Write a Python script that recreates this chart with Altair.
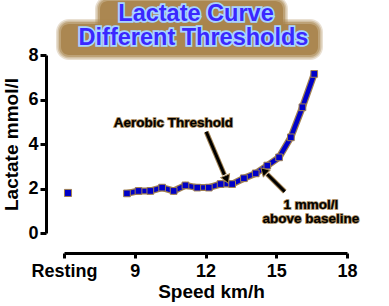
import altair as alt
import pandas as pd

# ---- data ----
rest_speed = [6.17]
rest_lactate = [1.8]
speeds = [8.67, 9.16, 9.66, 10.16, 10.65, 11.15, 11.65, 12.14, 12.64, 13.13,
          13.63, 14.13, 14.62, 15.12, 15.62, 16.11, 16.61]
lactate = [1.78, 1.89, 1.89, 2.04, 1.89, 2.14, 2.04, 2.04, 2.2, 2.2,
           2.46, 2.68, 3.03, 3.4, 4.3, 5.65, 7.15]
x_ticks = [6, 9, 12, 15, 18]
y_ticks = [0, 2, 4, 6, 8]

ann_text = ["Aerobic Threshold", "1 mmol/l", "above baseline"]
ann_x = [10.64, 16.47, 16.47]
ann_y = [4.94, 1.26, 0.63]

arrow_x = [12.03, 15.36]
arrow_y = [4.55, 1.86]
arrow_x2 = [12.80, 14.62]
arrow_y2 = [2.62, 2.64]
head_x = [12.88, 14.51]
head_y = [2.46, 2.76]
head_angle = [157, 315]

title_lines = ["Lactate Curve", "Different Thresholds"]

FONT = "Liberation Sans"
BLUE = "#0000c8"
BROWN = "#a08050"

curve = pd.DataFrame({"speed": speeds, "lactate": lactate})
rest = pd.DataFrame({"speed": rest_speed, "lactate": rest_lactate})
ann = pd.DataFrame({"speed": ann_x, "lactate": ann_y, "t": ann_text})
arrows = pd.DataFrame({"speed": arrow_x, "lactate": arrow_y, "x2": arrow_x2, "y2": arrow_y2})
heads = pd.DataFrame({"speed": head_x, "lactate": head_y, "a": head_angle})

xs = alt.Scale(domain=[6, 18], nice=False, zero=False)
ys = alt.Scale(domain=[0, 8], nice=False)

xaxis = alt.Axis(values=x_ticks, title="Speed km/h",
                 labelExpr="datum.value == 6 ? 'Resting' : datum.label",
                 labelOverlap=False, labelFlush=False,
                 offset=20, grid=False, domainColor="black", domainWidth=3,
                 tickColor="black", tickWidth=3, tickSize=5,
                 labelFont=FONT, labelFontSize=18, labelFontWeight="bold",
                 labelColor="black", labelPadding=4,
                 titleFont=FONT, titleFontSize=19, titleFontWeight="bold",
                 titleColor="black", titlePadding=2, titleX=147)
yaxis = alt.Axis(values=y_ticks, title="Lactate mmol/l",
                 labelOverlap=False, labelFlush=False,
                 offset=18, grid=False, domainColor="black", domainWidth=3,
                 tickColor="black", tickWidth=3, tickSize=6,
                 labelFont=FONT, labelFontSize=18, labelFontWeight="bold",
                 labelColor="black", labelPadding=2,
                 titleFont=FONT, titleFontSize=19, titleFontWeight="bold",
                 titleColor="black", titlePadding=6)

X = alt.X("speed:Q", scale=xs, axis=xaxis)
Y = alt.Y("lactate:Q", scale=ys, axis=yaxis)

line_bg = alt.Chart(curve).mark_line(color=BROWN, strokeWidth=7).encode(x=X, y=Y)
line_fg = alt.Chart(curve).mark_line(color=BLUE, strokeWidth=4.5).encode(x=X, y=Y)
pts = alt.Chart(curve).mark_point(shape="square", filled=True, fill=BLUE,
                                  stroke=BROWN, strokeWidth=1, size=45,
                                  opacity=1).encode(x=X, y=Y)
rest_pt = alt.Chart(rest).mark_point(shape="square", filled=True, fill=BLUE,
                                     stroke=BROWN, strokeWidth=1, size=50,
                                     opacity=1).encode(x=X, y=Y)

arrow_bg = alt.Chart(arrows).mark_rule(color=BROWN, strokeWidth=5).encode(
    x=X, y=Y, x2="x2:Q", y2="y2:Q")
arrow_fg = alt.Chart(arrows).mark_rule(color="black", strokeWidth=3).encode(
    x=X, y=Y, x2="x2:Q", y2="y2:Q")
head = alt.Chart(heads).mark_point(shape="triangle", filled=True, fill="black",
                                   stroke=BROWN, strokeWidth=1, size=90,
                                   opacity=1).encode(
    x=X, y=Y, angle=alt.Angle("a:Q", scale=None))

ann_bg = alt.Chart(ann).mark_text(font=FONT, fontSize=13.5, fontWeight="bold",
                                  stroke=BROWN, strokeWidth=1.5, color=BROWN).encode(
    x=X, y=Y, text="t:N")
ann_fg = alt.Chart(ann).mark_text(font=FONT, fontSize=13.5, fontWeight="bold",
                                  color="black").encode(x=X, y=Y, text="t:N")

# title with soft brown shadow
shadow_layers = []
for grow, op in [(5, 0.25), (3.5, 0.35), (2, 0.5), (0, 0.9)]:
    shadow_layers.append(
        alt.Chart(pd.DataFrame({"k": [0]})).mark_rect(
            color="#a8844c", opacity=op, cornerRadius=8 + grow).encode(
            x=alt.value(36 - grow), x2=alt.value(219 + grow),
            y=alt.value(-54 - grow), y2=alt.value(-24 + grow)))
    shadow_layers.append(
        alt.Chart(pd.DataFrame({"k": [0]})).mark_rect(
            color="#a8844c", opacity=op, cornerRadius=8 + grow).encode(
            x=alt.value(-3 - grow), x2=alt.value(254 + grow),
            y=alt.value(-31 - grow), y2=alt.value(0 + grow)))

def title_text(txt, xv, yv):
    d = pd.DataFrame({"t": [txt]})
    bg = alt.Chart(d).mark_text(
        font=FONT, fontSize=23.5, fontWeight="bold", color="#a8d4ff",
        stroke="#a8d4ff", strokeWidth=3.5, baseline="middle").encode(
        x=alt.value(xv), y=alt.value(yv), text="t:N")
    fg = alt.Chart(d).mark_text(
        font=FONT, fontSize=23.5, fontWeight="bold", color="#3a28ff",
        baseline="middle").encode(x=alt.value(xv), y=alt.value(yv), text="t:N")
    return [bg, fg]

title_marks = title_text(title_lines[0], 132, -41) + title_text(title_lines[1], 129.5, -17)

chart = alt.layer(
    line_bg, line_fg, pts, rest_pt,
    arrow_bg, arrow_fg, head, ann_bg, ann_fg,
    *shadow_layers, *title_marks,
).properties(
    width=283, height=178,
    autosize=alt.AutoSizeParams(type="none"),
    padding={"left": 64, "top": 55, "right": 42, "bottom": 73},
    background="white",
).configure_view(stroke=None)

chart.save("out.html", embed_options={"renderer": "svg", "actions": False})
